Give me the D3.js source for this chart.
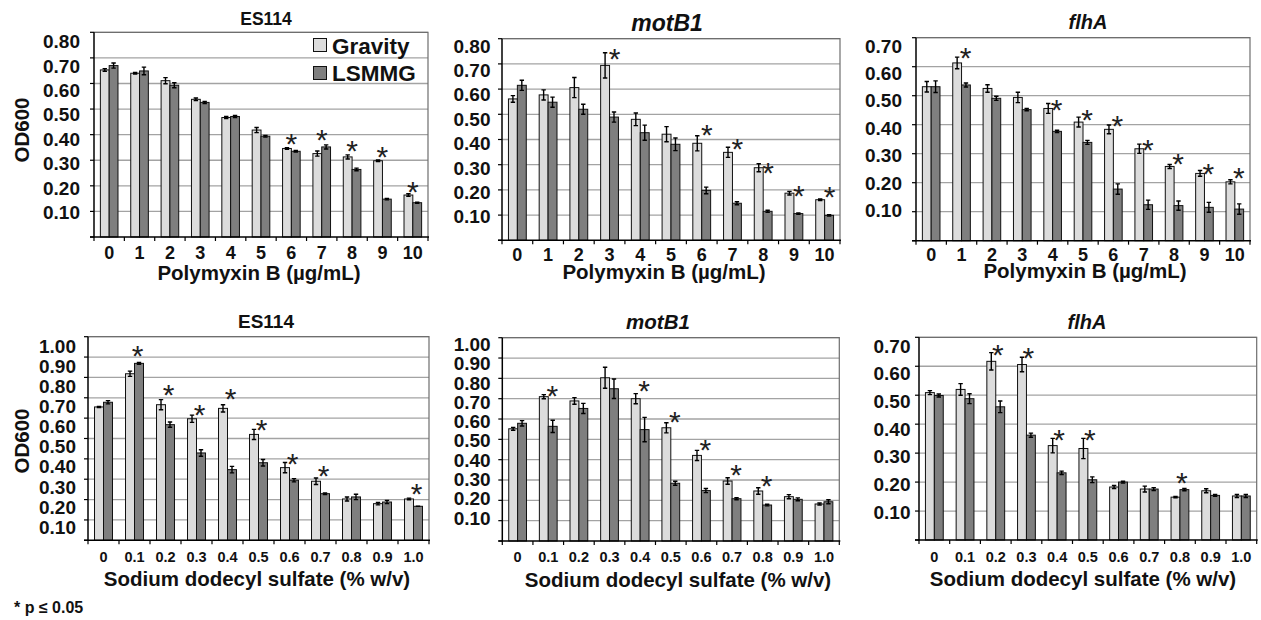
<!DOCTYPE html>
<html><head><meta charset="utf-8">
<script src="https://cdn.jsdelivr.net/npm/d3@7"></script>
<style>body{margin:0;background:#fff}</style></head><body>
<svg id="c" width="1261" height="620"></svg>
<script>
// ---------------- DATA ----------------
const pbCats  = ["0","1","2","3","4","5","6","7","8","9","10"];
const sdsCats = ["0","0.1","0.2","0.3","0.4","0.5","0.6","0.7","0.8","0.9","1.0"];
const seriesNames = ["Gravity","LSMMG"];

const yTicks070 = ["0.10","0.20","0.30","0.40","0.50","0.60","0.70"];
const yTicks080 = ["0.10","0.20","0.30","0.40","0.50","0.60","0.70","0.80"];
const yTicks100 = ["0.10","0.20","0.30","0.40","0.50","0.60","0.70","0.80","0.90","1.00"];

// ES114, Polymyxin B
const es114PbGravity    = [0.653,0.640,0.611,0.538,0.467,0.418,0.346,0.326,0.313,0.298,0.164];
const es114PbGravityErr = [0.005,0.003,0.012,0.005,0.004,0.010,0.003,0.010,0.008,0.003,0.005];
const es114PbLsmmg      = [0.670,0.649,0.593,0.526,0.471,0.394,0.335,0.352,0.264,0.148,0.134];
const es114PbLsmmgErr   = [0.010,0.015,0.010,0.004,0.004,0.003,0.003,0.008,0.005,0.003,0.002];
const es114PbStar       = [null,null,null,null,null,null,0.398,0.414,0.368,0.346,0.209];

// motB1, Polymyxin B
const motB1PbGravity    = [0.561,0.577,0.606,0.694,0.480,0.421,0.385,0.349,0.288,0.187,0.161];
const motB1PbGravityErr = [0.013,0.020,0.040,0.050,0.025,0.030,0.030,0.020,0.016,0.007,0.003];
const motB1PbLsmmg      = [0.615,0.548,0.520,0.489,0.427,0.381,0.198,0.147,0.115,0.106,0.099];
const motB1PbLsmmgErr   = [0.020,0.020,0.020,0.020,0.030,0.025,0.013,0.006,0.004,0.003,0.003];
const motB1PbStar       = [null,null,null,0.755,null,null,0.451,0.398,0.302,0.209,0.206];

// flhA, Polymyxin B
const flhAPbGravity     = [0.531,0.613,0.525,0.494,0.456,0.409,0.384,0.317,0.256,0.232,0.203];
const flhAPbGravityErr  = [0.018,0.020,0.013,0.018,0.017,0.017,0.015,0.016,0.007,0.010,0.007];
const flhAPbLsmmg       = [0.531,0.537,0.491,0.452,0.377,0.339,0.178,0.124,0.121,0.115,0.109];
const flhAPbLsmmgErr    = [0.020,0.007,0.007,0.004,0.004,0.007,0.018,0.016,0.016,0.017,0.018];
const flhAPbStar        = [null,0.660,null,null,0.479,0.445,0.424,0.341,0.295,0.261,0.246];

// ES114, SDS
const es114SdsGravity    = [0.655,0.818,0.666,0.597,0.648,0.520,0.357,0.290,0.203,0.180,0.203];
const es114SdsGravityErr = [0.003,0.013,0.025,0.018,0.018,0.025,0.025,0.016,0.010,0.006,0.004];
const es114SdsLsmmg      = [0.678,0.869,0.568,0.429,0.347,0.381,0.295,0.229,0.213,0.188,0.167];
const es114SdsLsmmgErr   = [0.008,0.004,0.013,0.016,0.016,0.016,0.008,0.004,0.013,0.008,0.000];
const es114SdsStar       = [null,0.946,0.754,0.656,0.738,0.583,0.419,0.358,null,null,0.272];

// motB1, SDS
const motB1SdsGravity    = [0.552,0.710,0.689,0.803,0.700,0.557,0.421,0.295,0.246,0.218,0.182];
const motB1SdsGravityErr = [0.007,0.010,0.016,0.052,0.025,0.025,0.025,0.016,0.016,0.010,0.005];
const motB1SdsLsmmg      = [0.579,0.564,0.652,0.749,0.548,0.284,0.248,0.208,0.177,0.205,0.193];
const motB1SdsLsmmgErr   = [0.013,0.030,0.025,0.048,0.060,0.010,0.010,0.005,0.004,0.007,0.010];
const motB1SdsStar       = [null,0.756,null,null,0.779,0.628,0.489,0.369,0.311,null,null];

// flhA, SDS
const flhASdsGravity     = [0.509,0.520,0.617,0.606,0.326,0.316,0.183,0.176,0.148,0.170,0.152];
const flhASdsGravityErr  = [0.007,0.020,0.030,0.025,0.025,0.035,0.005,0.010,0.002,0.007,0.005];
const flhASdsLsmmg       = [0.499,0.488,0.460,0.362,0.232,0.208,0.200,0.176,0.174,0.154,0.152];
const flhASdsLsmmgErr    = [0.005,0.017,0.020,0.007,0.006,0.010,0.003,0.005,0.004,0.003,0.005];
const flhASdsStar        = [null,null,0.667,0.659,0.374,0.374,null,null,0.227,null,null];

const pbTitle  = "Polymyxin B (µg/mL)";
const sdsTitle = "Sodium dodecyl sulfate (% w/v)";
const yTitle   = "OD600";
const footnote = "* p ≤ 0.05";

// ---------------- LAYOUT / STYLE ----------------
const FONT = "'Liberation Sans', Arial, Helvetica, sans-serif";
const C_GRAV = "#dcdcdc", C_LSM = "#7f7f7f";

const panels = [
 {title:"ES114", italic:false, tfs:17.5, tx:266, ty:25,
  cats:pbCats, g:es114PbGravity, ge:es114PbGravityErr, l:es114PbLsmmg, le:es114PbLsmmgErr, star:es114PbStar,
  yt:yTicks080, max:0.8, box:{l:94,r:428,t:32.3,b:237}, lab:[9,0.7], ygap:14,
  xfs:18, xly:259, xt:pbTitle, xtx:259, xty:279.5, ylabel:true, yly:130, legend:true, sdx:0},
 {title:"motB1", italic:true, tfs:23, tx:667, ty:30.5,
  cats:pbCats, g:motB1PbGravity, ge:motB1PbGravityErr, l:motB1PbLsmmg, le:motB1PbLsmmgErr, star:motB1PbStar,
  yt:yTicks080, max:0.8, box:{l:502,r:840,t:38.7,b:240.3}, lab:[7,1.4], ygap:11.5,
  xfs:18, xly:260.5, xt:pbTitle, xtx:664, xty:278.5, sdx:5},
 {title:"flhA", italic:true, tfs:20, tx:1088, ty:29.3,
  cats:pbCats, g:flhAPbGravity, ge:flhAPbGravityErr, l:flhAPbLsmmg, le:flhAPbLsmmgErr, star:flhAPbStar,
  yt:yTicks070, max:0.7, box:{l:916,r:1250,t:37.7,b:240.7}, lab:[8,-1.4], ygap:14,
  xfs:18, xly:260.5, xt:pbTitle, xtx:1085, xty:278, sdx:4},
 {title:"ES114", italic:false, tfs:19, tx:266, ty:328.3,
  cats:sdsCats, g:es114SdsGravity, ge:es114SdsGravityErr, l:es114SdsLsmmg, le:es114SdsLsmmgErr, star:es114SdsStar,
  yt:yTicks100, max:1.0, box:{l:88,r:429,t:336.7,b:540.3}, lab:[9,7], ygap:12,
  xfs:14.5, xly:561.7, xt:sdsTitle, xtx:257, xty:586, ylabel:true, yly:441, sdx:3},
 {title:"motB1", italic:true, tfs:20.5, tx:658, ty:329.3,
  cats:sdsCats, g:motB1SdsGravity, ge:motB1SdsGravityErr, l:motB1SdsLsmmg, le:motB1SdsLsmmgErr, star:motB1SdsStar,
  yt:yTicks100, max:1.0, box:{l:502.3,r:839.3,t:337.7,b:541}, lab:[6.5,-3], ygap:11.6,
  xfs:14.5, xly:561.7, xt:sdsTitle, xtx:678, xty:586.5, sdx:4},
 {title:"flhA", italic:true, tfs:20, tx:1087, ty:329.3,
  cats:sdsCats, g:flhASdsGravity, ge:flhASdsGravityErr, l:flhASdsLsmmg, le:flhASdsLsmmgErr, star:flhASdsStar,
  yt:yTicks070, max:0.7, box:{l:919,r:1256.7,t:337.3,b:540}, lab:[8.7,0.7], ygap:8.5,
  xfs:14.5, xly:561.7, xt:sdsTitle, xtx:1083, xty:586, sdx:2}
];

const svg = d3.select("#c").style("font-family", FONT);

panels.forEach(draw);

function draw(p){
  const g = svg.append("g");
  const B = p.box;
  const x = d3.scaleBand().domain(p.cats).range([B.l, B.r]);
  const y = d3.scaleLinear().domain([0, p.max]).range([B.b, B.t]);
  const tv = p.yt.map(Number);
  const tmin = tv[0], tmax = tv[tv.length-1];
  const labY = v => y(v) + p.lab[1] + (p.lab[0]-p.lab[1])*(v - tmin)/(tmax - tmin);

  // background + grid
  g.append("rect").attr("x",B.l).attr("y",B.t).attr("width",B.r-B.l).attr("height",B.b-B.t).attr("fill","#fff");
  g.selectAll("line.grid").data(tv).join("line").attr("class","grid")
    .attr("x1",B.l).attr("x2",B.r).attr("y1",d=>y(d)).attr("y2",d=>y(d))
    .attr("stroke","#a3a3a3").attr("stroke-width",1.3);
  // frame (top/right grey)
  g.append("path").attr("d",`M${B.l},${B.t}H${B.r}V${B.b}`).attr("fill","none").attr("stroke","#6e6e6e").attr("stroke-width",1.2);

  // bars
  const bw = x.bandwidth()*0.29;
  const rows = p.cats.map((c,i)=>({c, g:p.g[i], ge:p.ge[i], l:p.l[i], le:p.le[i], s:p.star[i]}));
  const cx = d => x(d.c) + x.bandwidth()/2;
  g.selectAll("rect.gv").data(rows).join("rect").attr("class","gv")
    .attr("x",d=>cx(d)-bw).attr("width",bw).attr("y",d=>y(d.g)).attr("height",d=>y(0)-y(d.g))
    .attr("fill",C_GRAV).attr("stroke","#111").attr("stroke-width",1);
  g.selectAll("rect.ls").data(rows).join("rect").attr("class","ls")
    .attr("x",d=>cx(d)).attr("width",bw).attr("y",d=>y(d.l)).attr("height",d=>y(0)-y(d.l))
    .attr("fill",C_LSM).attr("stroke","#111").attr("stroke-width",1);

  // error bars
  const eb = [];
  rows.forEach(d=>{
    eb.push({x:cx(d)-bw/2, v:d.g, e:d.ge});
    eb.push({x:cx(d)+bw/2, v:d.l, e:d.le});
  });
  const ebd = d => {
    const y1 = y(d.v + d.e), y2 = y(d.v - d.e), w = 2.2;
    return `M${d.x},${y1}V${y2}M${d.x-w},${y1}H${d.x+w}M${d.x-w},${y2}H${d.x+w}`;
  };
  g.selectAll("path.eb").data(eb).join("path").attr("class","eb")
    .attr("d",ebd).attr("stroke","#000").attr("stroke-width",1.4).attr("fill","none");

  // asterisks
  g.selectAll("text.star").data(rows.filter(d=>d.s!=null)).join("text").attr("class","star")
    .attr("x",d=>cx(d)+p.sdx).attr("y",d=>y(d.s)).attr("dy","0.62em")
    .attr("text-anchor","middle").attr("font-size",30).attr("font-weight","normal")
    .attr("fill","#222").text("*");

  // axes lines
  g.append("line").attr("x1",B.l).attr("x2",B.l).attr("y1",B.t).attr("y2",B.b+0.5).attr("stroke","#000").attr("stroke-width",1.5);
  g.append("line").attr("x1",B.l-4).attr("x2",B.r+1).attr("y1",B.b).attr("y2",B.b).attr("stroke","#000").attr("stroke-width",1.5);
  // y tick marks
  g.selectAll("line.yt").data([0].concat(tv)).join("line").attr("class","yt")
    .attr("x1",B.l-4).attr("x2",B.l).attr("y1",d=>y(d)).attr("y2",d=>y(d)).attr("stroke","#000").attr("stroke-width",1.2);
  // x tick marks at band boundaries
  const bounds = p.cats.map(c=>x(c)).concat([B.r]);
  g.selectAll("line.xt").data(bounds).join("line").attr("class","xt")
    .attr("x1",d=>d).attr("x2",d=>d).attr("y1",B.b).attr("y2",B.b+4).attr("stroke","#000").attr("stroke-width",1.2);

  // y tick labels
  g.selectAll("text.yl").data(p.yt).join("text").attr("class","yl")
    .attr("x",B.l - p.ygap).attr("y",d=>labY(+d)).attr("dy","0.36em")
    .attr("text-anchor","end").attr("font-size",19).attr("font-weight","bold").attr("fill","#111").text(d=>d);
  // x tick labels
  g.selectAll("text.xl").data(p.cats).join("text").attr("class","xl")
    .attr("x",c=>x(c)+x.bandwidth()/2).attr("y",p.xly)
    .attr("text-anchor","middle").attr("font-size",p.xfs).attr("font-weight","bold").attr("fill","#111").text(c=>c);
  // x title
  g.append("text").attr("x",p.xtx).attr("y",p.xty).attr("text-anchor","middle")
    .attr("font-size",20.5).attr("font-weight","bold").attr("fill","#111").text(p.xt);
  // panel title
  g.append("text").attr("x",p.tx).attr("y",p.ty).attr("text-anchor","middle")
    .attr("font-size",p.tfs).attr("font-weight","bold").attr("font-style",p.italic?"italic":"normal")
    .attr("fill","#111").text(p.title);
  // y title
  if (p.ylabel){
    g.append("text").attr("transform",`translate(29,${p.yly}) rotate(-90)`).attr("text-anchor","middle")
      .attr("font-size",20.5).attr("font-weight","bold").attr("fill","#111").text(yTitle);
  }
  // legend
  if (p.legend){
    const lg = g.append("g");
    const items = seriesNames.map((n,i)=>({n, c:i===0?C_GRAV:C_LSM, i}));
    lg.selectAll("rect").data(items).join("rect")
      .attr("x",313.5).attr("y",d=>d.i===0?38.5:66.5).attr("width",13).attr("height",13)
      .attr("fill",d=>d.c).attr("stroke","#111").attr("stroke-width",1);
    lg.selectAll("text").data(items).join("text")
      .attr("x",332).attr("y",d=>d.i===0?54:80.5)
      .attr("font-size",22.5).attr("font-weight","bold").attr("fill","#111").text(d=>d.n);
  }
}

svg.append("text").attr("x",14).attr("y",613).attr("font-size",16).attr("font-weight","bold")
  .attr("fill","#111").text(footnote);
</script>
</body></html>
